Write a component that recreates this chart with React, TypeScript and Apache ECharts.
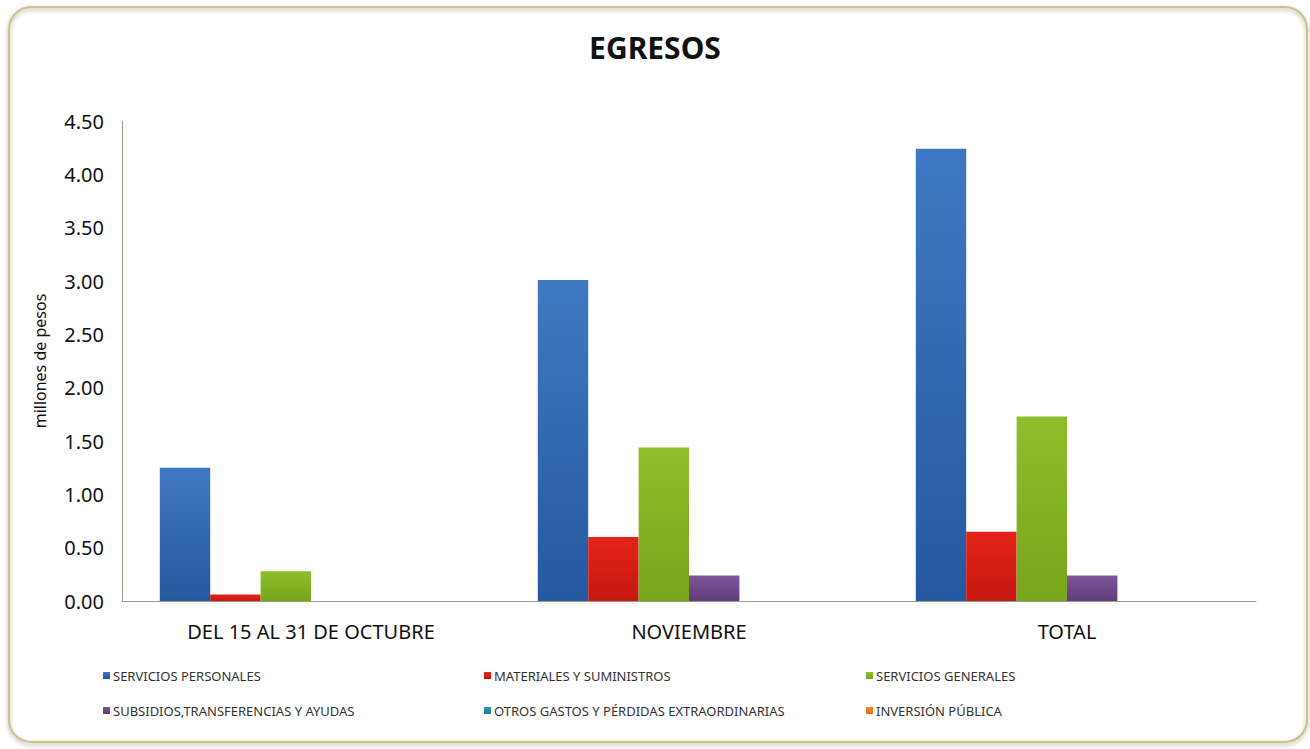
import React, { useEffect, useRef } from "react";
import * as echarts from "echarts";

const categories = ["DEL 15 AL 31 DE OCTUBRE", "NOVIEMBRE", "TOTAL"];
const seriesNames = [
  "SERVICIOS PERSONALES",
  "MATERIALES Y SUMINISTROS",
  "SERVICIOS GENERALES",
  "SUBSIDIOS,TRANSFERENCIAS Y AYUDAS",
  "OTROS GASTOS Y PÉRDIDAS EXTRAORDINARIAS",
  "INVERSIÓN PÚBLICA",
];
const serviciosPersonales = [1.25, 3.01, 4.24];
const materialesSuministros = [0.06, 0.6, 0.65];
const serviciosGenerales = [0.28, 1.44, 1.73];
const subsidios = [0, 0.24, 0.24];
const otrosGastos = [0, 0, 0];
const inversionPublica = [0, 0, 0];
const yTicks = { min: 0, max: 4.5, interval: 0.5 };

const seriesValues = [
  serviciosPersonales,
  materialesSuministros,
  serviciosGenerales,
  subsidios,
  otrosGastos,
  inversionPublica,
];
const colorsTop = ["#3f78c2", "#e4231a", "#8fbe2c", "#7d5596", "#2b9bb8", "#f38a22"];
const colorsBottom = ["#25589f", "#c41811", "#77a51c", "#613d7b", "#1c7f9a", "#e06f10"];
const legendSwatch = ["#2f69b2", "#d91e15", "#82b324", "#6f4a89", "#2590ad", "#ea7a18"];

const legendPos = [
  { left: 98, top: 664 },
  { left: 479, top: 664 },
  { left: 861, top: 664 },
  { left: 98, top: 699 },
  { left: 479, top: 699 },
  { left: 861, top: 699 },
];

export default function App() {
  const ref = useRef<HTMLDivElement>(null);
  useEffect(() => {
    document.body.style.margin = "0";
    const chart = echarts.init(ref.current!, undefined, { renderer: "svg" });
    const font = "'Noto Sans', 'Open Sans', sans-serif";
    chart.setOption({
      animation: false,
      backgroundColor: "#ffffff",
      textStyle: { fontFamily: font },
      title: {
        text: "EGRESOS",
        left: "center",
        top: 27,
        textStyle: { fontSize: 30, fontWeight: "bold", color: "#111", fontFamily: font },
      },
      graphic: [
        {
          type: "rect",
          left: 8,
          top: 6,
          shape: { width: 1298, height: 735, r: 22 },
          style: {
            fill: "rgba(0,0,0,0)",
            stroke: "#cdbf8f",
            lineWidth: 2,
            shadowBlur: 4,
            shadowOffsetY: 2,
            shadowColor: "rgba(100,100,40,0.5)",
          },
          z: 0,
          silent: true,
        },
      ],
      legend: seriesNames.map((n, i) => ({
        data: [n],
        left: legendPos[i].left,
        top: legendPos[i].top,
        icon: "rect",
        itemWidth: 7,
        itemHeight: 7,
        itemGap: 4,
        selectedMode: false,
        textStyle: { fontSize: 13, color: "#333", fontFamily: font, padding: [0, 0, 0, -2] },
      })),
      grid: { left: 122, right: 54, top: 121, bottom: 148 },
      xAxis: {
        type: "category",
        data: categories,
        axisLine: { show: true, lineStyle: { color: "#9a9a88", width: 1 } },
        axisTick: { show: false },
        axisLabel: { fontSize: 20, color: "#111", margin: 20, fontFamily: font },
      },
      yAxis: {
        type: "value",
        min: yTicks.min,
        max: yTicks.max,
        interval: yTicks.interval,
        name: "millones de pesos",
        nameLocation: "middle",
        nameGap: 74,
        nameTextStyle: { fontSize: 16, color: "#111", fontFamily: font },
        axisLine: { show: true, lineStyle: { color: "#9a9a88", width: 1 } },
        axisTick: { show: false },
        splitLine: { show: false },
        axisLabel: {
          fontSize: 20,
          color: "#111",
          margin: 18,
          fontFamily: font,
          formatter: (v: number) => v.toFixed(2),
        },
      },
      series: seriesNames.map((n, i) => ({
        name: n,
        type: "bar",
        data: seriesValues[i],
        barGap: "0%",
        barCategoryGap: "20%",
        itemStyle: {
          color: new echarts.graphic.LinearGradient(0, 0, 0, 1, [
            { offset: 0, color: colorsTop[i] },
            { offset: 1, color: colorsBottom[i] },
          ]),
        },
      })),
      color: legendSwatch,
    });
    return () => chart.dispose();
  }, []);
  return <div ref={ref} style={{ width: 1310, height: 749 }} />;
}
